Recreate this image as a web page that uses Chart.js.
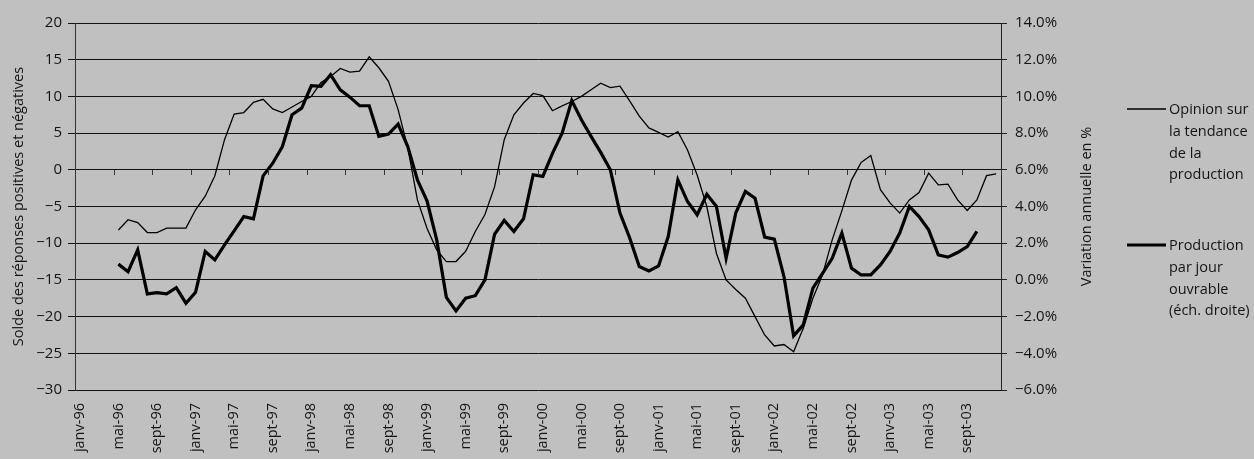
<!DOCTYPE html>
<html>
<head>
<meta charset="utf-8">
<script src="https://cdn.jsdelivr.net/npm/chart.js@4/dist/chart.umd.min.js"></script>
<style>
html,body{margin:0;padding:0;background:#c0c0c0;}
#wrap{position:relative;width:1254px;height:459px;overflow:hidden;}
</style>
</head>
<body>
<div id="wrap"><canvas id="c" width="1254" height="459"></canvas></div>
<script>
// ---- Data ----
const monthNames = ['janv','févr','mars','avr','mai','juin','juil','août','sept','oct','nov','déc'];
const yearNames = ['96','97','98','99','00','01','02','03'];
const categories = [];
yearNames.forEach(y => monthNames.forEach(m => categories.push(m + '-' + y)));

// Opinion sur la tendance de la production (solde, left axis)
const opinion = [
  null, null, null, null, -8.2, -6.8, -7.2, -8.55, -8.55, -7.95, -7.95, -7.95,
  -5.45, -3.6, -0.8, 4.1, 7.6, 7.8, 9.2, 9.6, 8.3, 7.8, 8.55, 9.3,
  10.0, 11.9, 12.7, 13.8, 13.3, 13.45, 15.4, 13.9, 12.05, 8.2, 3.0, -4.1,
  -8.0, -10.9, -12.5, -12.5, -11.1, -8.4, -6.1, -2.3, 4.1, 7.5, 9.1, 10.4,
  10.1, 8.05, 8.7, 9.3, 10.0, 10.9, 11.8, 11.2, 11.4, 9.4, 7.3, 5.7,
  5.1, 4.45, 5.2, 2.7, -0.7, -5.0, -11.4, -15.0, -16.3, -17.5, -20.0, -22.5,
  -24.0, -23.8, -24.8, -21.6, -17.5, -14.3, -9.55, -5.6, -1.4, 1.0, 1.95, -2.7,
  -4.5, -5.9, -4.1, -3.1, -0.45, -2.05, -1.95, -4.1, -5.55, -4.1, -0.8, -0.55
];

// Production par jour ouvrable (variation annuelle en %, right axis)
const production = [
  null, null, null, null, 0.86, 0.45, 1.64, -0.76, -0.69, -0.76, -0.42, -1.27,
  -0.67, 1.55, 1.09, 1.91, 2.67, 3.45, 3.33, 5.67, 6.36, 7.27, 9.0, 9.36,
  10.58, 10.55, 11.18, 10.36, 9.96, 9.49, 9.49, 7.82, 7.95, 8.49, 7.27, 5.45,
  4.3, 2.18, -0.95, -1.69, -1.0, -0.86, 0.0, 2.49, 3.24, 2.64, 3.33, 5.73,
  5.64, 6.9, 8.0, 9.77, 8.73, 7.82, 6.95, 6.0, 3.64, 2.3, 0.73, 0.49,
  0.76, 2.36, 5.45, 4.27, 3.55, 4.67, 4.0, 1.18, 3.64, 4.82, 4.45, 2.33,
  2.22, 0.18, -3.05, -2.45, -0.45, 0.36, 1.18, 2.55, 0.64, 0.27, 0.27, 0.82,
  1.55, 2.55, 4.0, 3.45, 2.73, 1.36, 1.24, 1.49, 1.82, 2.64, null, null
];

const leftTicks = {min: -30, max: 20, step: 5};
const rightTicks = {min: -6, max: 14, step: 2};
const leftTitle = 'Solde des réponses positives et négatives';
const rightTitle = 'Variation annuelle en %';
const legendOpinion = ['Opinion sur', 'la tendance', 'de la', 'production'];
const legendProduction = ['Production', 'par jour', 'ouvrable', '(éch. droite)'];
const labelEvery = 4;

// ---- Chart ----
const FONT = "'Open Sans', 'DejaVu Sans', sans-serif";
const TXT = '#141414';
const minus = s => String(s).replace('-', '\u2212');

const extrasPlugin = {
  id: 'extras',
  afterDatasetsDraw(chart) {
    const ctx = chart.ctx;
    const xs = chart.scales.x, yl = chart.scales.y;
    // category tick marks on the zero line
    const y0 = yl.getPixelForValue(0);
    ctx.save();
    ctx.strokeStyle = '#333';
    ctx.lineWidth = 1;
    for (let i = 0; i <= categories.length; i += labelEvery) {
      const x = Math.round(xs.getPixelForValue(i - 0.5)) + 0.5;
      ctx.beginPath();
      ctx.moveTo(x, Math.round(y0));
      ctx.lineTo(x, Math.round(y0) + 5);
      ctx.stroke();
    }
    ctx.restore();
  },
  afterDraw(chart) {
    const ctx = chart.ctx;
    const ca = chart.chartArea;
    ctx.save();
    ctx.fillStyle = TXT;
    ctx.font = '14.5px ' + FONT;
    ctx.textAlign = 'center';
    ctx.textBaseline = 'middle';
    // axis titles
    const midY = (ca.top + ca.bottom) / 2;
    ctx.save();
    ctx.translate(18.5, midY);
    ctx.rotate(-Math.PI / 2);
    ctx.fillText(leftTitle, 0, 0);
    ctx.restore();
    ctx.save();
    ctx.translate(1087, midY);
    ctx.rotate(-Math.PI / 2);
    ctx.fillText(rightTitle, 0, 0);
    ctx.restore();
    // legend
    const items = [
      {lines: legendOpinion, width: chart.data.datasets[0].borderWidth, y: 109},
      {lines: legendProduction, width: chart.data.datasets[1].borderWidth, y: 245}
    ];
    ctx.textAlign = 'left';
    items.forEach(it => {
      ctx.strokeStyle = '#000';
      ctx.lineWidth = it.width;
      ctx.beginPath();
      ctx.moveTo(1127, it.y);
      ctx.lineTo(1166, it.y);
      ctx.stroke();
      it.lines.forEach((ln, k) => {
        ctx.fillText(ln, 1169, it.y + 1 + k * 21.7);
      });
    });
    ctx.restore();
  }
};

new Chart(document.getElementById('c'), {
  type: 'line',
  data: {
    labels: categories,
    datasets: [
      {
        label: legendOpinion.join(' '),
        data: opinion,
        yAxisID: 'y',
        borderColor: '#000',
        borderWidth: 1.3,
        pointRadius: 0,
        tension: 0,
        spanGaps: false
      },
      {
        label: legendProduction.join(' '),
        data: production,
        yAxisID: 'y2',
        borderColor: '#000',
        borderWidth: 3.2,
        pointRadius: 0,
        tension: 0,
        spanGaps: false
      }
    ]
  },
  options: {
    responsive: false,
    animation: false,
    events: [],
    layout: {padding: {left: 0, right: 193, top: 23, bottom: 0}},
    plugins: {legend: {display: false}, tooltip: {enabled: false}, title: {display: false}},
    scales: {
      x: {
        type: 'category',
        offset: true,
        grid: {display: false, drawTicks: false},
        border: {display: false},
        ticks: {
          autoSkip: false,
          minRotation: 90,
          maxRotation: 90,
          padding: 13,
          color: TXT,
          font: {family: FONT, size: 14.5},
          callback: (v, i) => (i % labelEvery === 0 ? categories[i] : '')
        },
        afterFit: s => { s.height = 69; }
      },
      y: {
        position: 'left',
        min: leftTicks.min,
        max: leftTicks.max,
        ticks: {
          stepSize: leftTicks.step,
          padding: 6,
          color: TXT,
          font: {family: FONT, size: 15},
          callback: v => minus(v)
        },
        grid: {color: '#111', lineWidth: 1, tickLength: 7, drawTicks: true},
        border: {display: true, color: '#333', width: 1},
        afterFit: s => { s.width = 75; }
      },
      y2: {
        position: 'right',
        min: rightTicks.min,
        max: rightTicks.max,
        ticks: {
          stepSize: rightTicks.step,
          padding: 8,
          color: TXT,
          font: {family: FONT, size: 15},
          callback: v => minus(v.toFixed(1) + '%')
        },
        grid: {drawOnChartArea: false, color: '#222', tickLength: 6},
        border: {display: true, color: '#222', width: 1},
        afterFit: s => { s.width = 60; }
      }
    }
  },
  plugins: [extrasPlugin]
});
</script>
</body>
</html>
